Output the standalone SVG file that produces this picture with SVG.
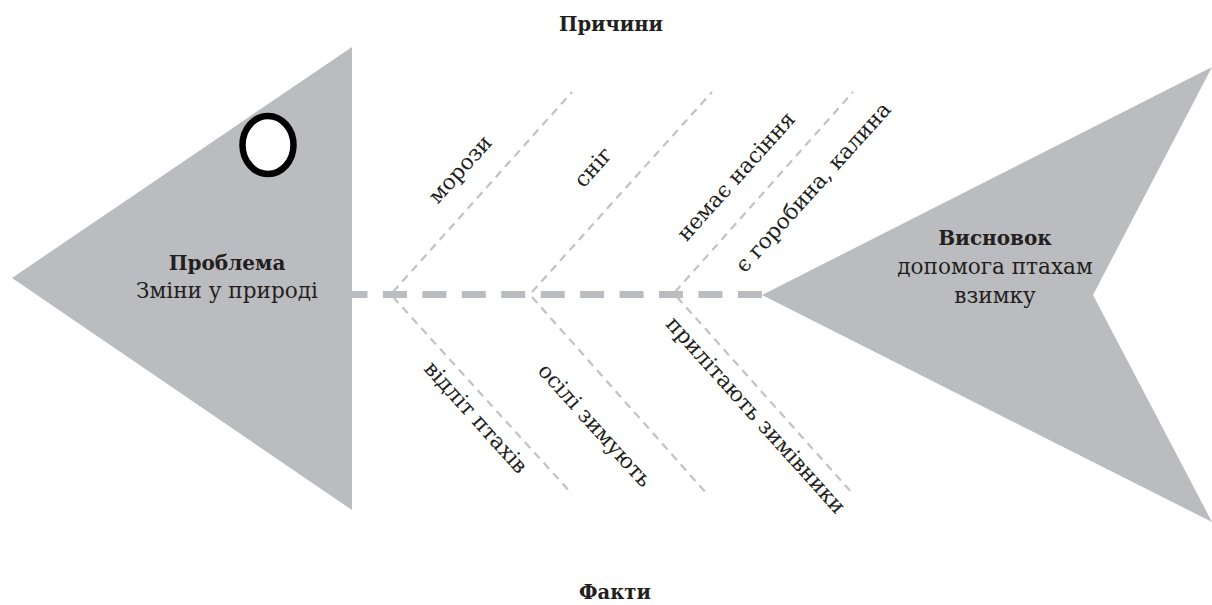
<svg xmlns="http://www.w3.org/2000/svg" width="1212" height="605" viewBox="0 0 1212 605">
<style>
.shape{fill:#bbbcbf;stroke:none}
.t{font-family:"DejaVu Serif","Liberation Serif",serif;font-size:21.6px;fill:#231f20}
.b{font-weight:bold;font-size:20px}
.h{font-weight:bold;font-size:19.5px}
.mid{text-anchor:middle}
.bone{stroke:#c2c2c2;stroke-width:2.2;stroke-dasharray:8 6;fill:none}
.spine{stroke:#bbbcbf;stroke-width:7;stroke-dasharray:24 15.44;fill:none}
</style>
<rect width="1212" height="605" fill="#ffffff"/>
<g id="connectors">
<line class="spine" x1="343.5" y1="294.5" x2="762" y2="294.5"/>
<line class="bone" x1="393" y1="292" x2="572" y2="92"/>
<line class="bone" x1="532" y1="292" x2="712" y2="92"/>
<line class="bone" x1="675" y1="292" x2="853" y2="92"/>
<line class="bone" x1="393" y1="297" x2="572" y2="494"/>
<line class="bone" x1="532" y1="297" x2="707" y2="494"/>
<line class="bone" x1="677" y1="297" x2="853" y2="494"/>
</g>
<g id="head">
<polygon class="shape" points="352,47 12,278 352,510"/>
<ellipse cx="268" cy="145" rx="25.5" ry="29" fill="#ffffff" stroke="#000000" stroke-width="6.5"/>
<text class="t b mid" x="227" y="270">Проблема</text>
<text class="t mid" x="227" y="298">Зміни у природі</text>
</g>
<g id="tail">
<polygon class="shape" points="762,295 1212,67 1093,295 1212,522"/>
<text class="t b mid" x="995" y="245">Висновок</text>
<text class="t mid" x="995" y="274">допомога птахам</text>
<text class="t mid" x="995" y="303">взимку</text>
</g>
<g id="title-causes"><text class="t h mid" x="611" y="31">Причини</text></g>
<g id="title-facts"><text class="t h mid" x="615" y="599">Факти</text></g>
<g id="cause-1"><text class="t mid" transform="translate(461,170) rotate(-48)" y="6">морози</text></g>
<g id="cause-2"><text class="t mid" transform="translate(594,168) rotate(-48)" y="6">сніг</text></g>
<g id="cause-3"><text class="t mid" transform="translate(737,177) rotate(-48)" y="6">немає насіння</text></g>
<g id="cause-4"><text class="t mid" transform="translate(814,188) rotate(-48)" y="6">є горобина, калина</text></g>
<g id="fact-1"><text class="t mid" transform="translate(475,418) rotate(48)" y="6">відліт птахів</text></g>
<g id="fact-2"><text class="t mid" transform="translate(594,426) rotate(48)" y="6">осілі зимують</text></g>
<g id="fact-3"><text class="t mid" transform="translate(755,416) rotate(48)" y="6">прилітають зимівники</text></g>
</svg>
